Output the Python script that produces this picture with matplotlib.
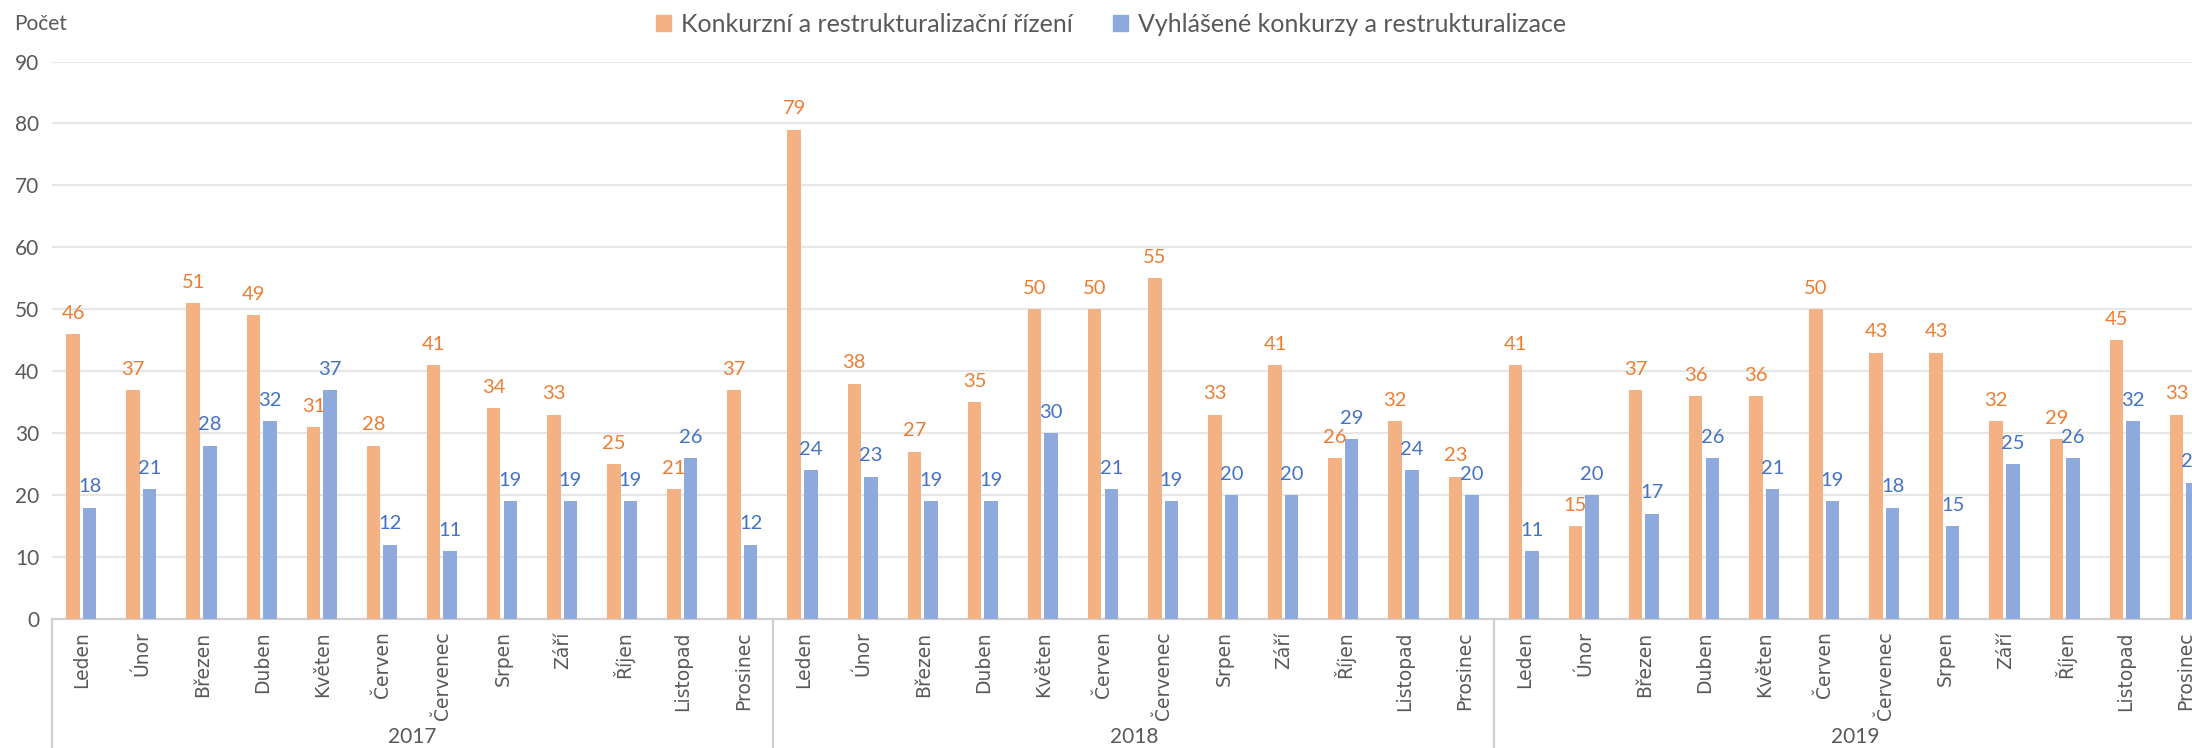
import numpy as np
import matplotlib
matplotlib.use("Agg")
import matplotlib.pyplot as plt
from matplotlib.patches import Patch

years = ["2017", "2018", "2019"]
months = ["Leden", "Únor", "Březen", "Duben", "Květen", "Červen",
          "Červenec", "Srpen", "Září", "Říjen", "Listopad", "Prosinec"]
rizeni = [46, 37, 51, 49, 31, 28, 41, 34, 33, 25, 21, 37,
          79, 38, 27, 35, 50, 50, 55, 33, 41, 26, 32, 23,
          41, 15, 37, 36, 36, 50, 43, 43, 32, 29, 45, 33]
vyhlasene = [18, 21, 28, 32, 37, 12, 11, 19, 19, 19, 26, 12,
             24, 23, 19, 19, 30, 21, 19, 20, 20, 29, 24, 20,
             11, 20, 17, 26, 21, 19, 18, 15, 25, 26, 32, 22]
series_names = ["Konkurzní a restrukturalizační řízení",
                "Vyhlášené konkurzy a restrukturalizace"]

c_or = "#F4B183"
c_bl = "#8EA9DB"
t_or = "#ED7D31"
t_bl = "#4472C4"
grey = "#595959"
numfont = "Lato"

fig = plt.figure(figsize=(21.92, 7.48), dpi=100)
ax = fig.add_axes([52 / 2192, 129 / 748, 2163.6 / 2192, 557.5 / 748])

x = np.arange(len(rizeni))
w = 0.225
b1 = ax.bar(x - 0.15, rizeni, w, color=c_or, zorder=3)
b2 = ax.bar(x + 0.125, vyhlasene, w, color=c_bl, zorder=3)
for rect, v in zip(b1, rizeni):
    ax.annotate(str(v), (rect.get_x() + rect.get_width() / 2, v), xytext=(0, 11),
                textcoords="offset points", ha="center", va="baseline",
                color=t_or, fontsize=14.5, family=numfont)
for rect, v in zip(b2, vyhlasene):
    ax.annotate(str(v), (rect.get_x() + rect.get_width() / 2, v), xytext=(0, 11),
                textcoords="offset points", ha="center", va="baseline",
                color=t_bl, fontsize=14.5, family=numfont)

ax.set_xlim(-0.5, len(rizeni) - 0.5)
ax.set_ylim(0, 90)
ax.set_yticks(range(0, 91, 10))
ax.yaxis.grid(True, color="#E7E7E7", linewidth=1.6, zorder=0)
ax.tick_params(axis="y", length=0, labelsize=15, labelcolor=grey, pad=9)
for lab in ax.get_yticklabels():
    lab.set_family(numfont)

ax.set_xticks(x)
ax.set_xticklabels(months * len(years), rotation=90, fontsize=13.5, color=grey)
ax.tick_params(axis="x", length=0, pad=9)

for s in ["top", "right", "left"]:
    ax.spines[s].set_visible(False)
ax.spines["bottom"].set_color("#D0D0D0")
ax.spines["bottom"].set_linewidth(1.6)

# year separators and labels under the axis
tr = ax.get_xaxis_transform()
for i in range(len(years) + 1):
    ax.plot([i * 12 - 0.5, i * 12 - 0.5], [0, -0.235], transform=tr,
            color="#D0D0D0", linewidth=1.6, clip_on=False)
for i, yr in enumerate(years):
    ax.text(i * 12 + 5.5, -0.212, yr, transform=tr, ha="center", va="center",
            fontsize=15, color=grey, family=numfont)

fig.text(14 / 2192, 1 - 24 / 748, "Počet", ha="left", va="center",
         fontsize=15, color=grey, family=numfont)

handles = [Patch(color=c_or), Patch(color=c_bl)]
leg = fig.legend(handles, series_names, loc="center", ncol=2,
                 bbox_to_anchor=(0.507, 1 - 24 / 748), frameon=False,
                 prop={"family": numfont, "size": 18}, handlelength=0.6,
                 handleheight=0.6, handletextpad=0.4, columnspacing=1.6)
for t in leg.get_texts():
    t.set_color(grey)

fig.savefig("out.png", dpi=100)
